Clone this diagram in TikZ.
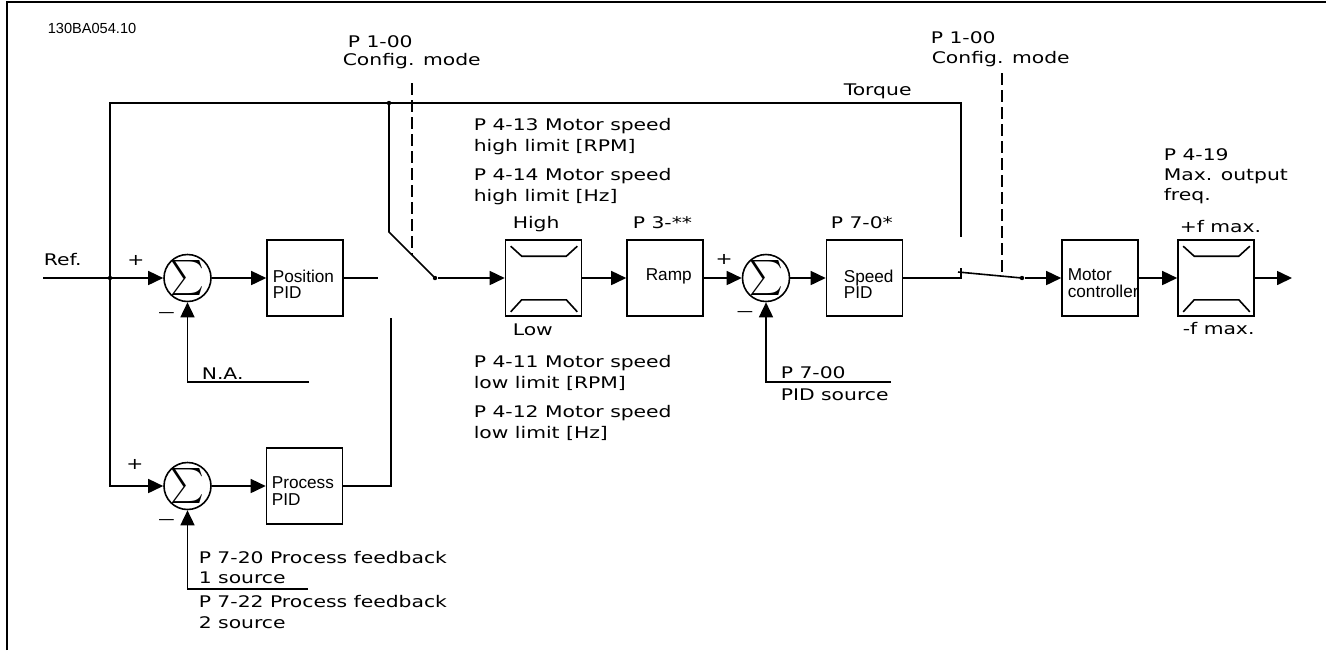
\documentclass[tikz,border=0pt]{standalone}
\usepackage{fontspec}
\setmainfont{DejaVu Sans}
\newfontfamily\labfont[FakeStretch=1.27]{DejaVu Sans}
\newfontfamily\boxfont{Liberation Sans}
\usetikzlibrary{arrows.meta}
\begin{document}
\begin{tikzpicture}[x=0.5pt,y=-0.5pt, line width=0.8pt,
  lab/.style={font=\labfont\fontsize{8}{10}\selectfont, anchor=base west, inner sep=0},
  sgn/.style={font=\labfont\fontsize{8}{10}\selectfont, anchor=center, inner sep=0},
  btxt/.style={font=\boxfont\fontsize{8.6}{10}\selectfont, anchor=base west, inner sep=0},
  ttl/.style={font=\boxfont\fontsize{7.3}{8}\selectfont, anchor=base west, inner sep=0},
  blk/.style={draw, minimum width=38pt, minimum height=38pt, inner sep=0},
  sumn/.style={draw, circle, minimum size=23.5pt, inner sep=0},
  sigma/.style={inner sep=0, anchor=center},
  arr/.style={-{Triangle[length=7.5pt,width=7pt]}},
  dotn/.style={circle, fill, inner sep=0, minimum size=2.2pt},
  cfg/.style={dash pattern=on 6pt off 2.5pt},
  frame/.style={line width=1pt}
]
\useasboundingbox (0,0) rectangle (1326,650);
% frame
\coordinate (fbl) at (6.5,650);
\coordinate (ftl) at (6.5,2.3);
\coordinate (ftr) at (1326,2.3);
\draw[frame] (fbl) -- (ftl) -- (ftr);

\node[ttl] (title) at (47,33) {130BA054.10};

% blocks
\node[sumn] (sum1) at (187.5,278) {};
\node[sumn] (sum2) at (187.5,486) {};
\node[sumn] (sum3) at (766,278) {};
\foreach \s in {sum1,sum2,sum3}
  \node[sigma] (\s sig) at (\s.center) {\scalebox{1.6}[1.75]{$\textstyle\sum$}};
\node[blk] (pos) at (305,278) {};
\node[blk] (proc) at (304.5,486) {};
\node[blk] (lim1) at (543.5,278) {};
\node[blk] (ramp) at (665,278) {};
\node[blk] (spd) at (864.5,278) {};
\node[blk] (mot) at (1100,278) {};
\node[blk] (lim2) at (1216,278) {};

% limiter symbols
\foreach \b in {lim1,lim2}{
  \draw ([shift={(6,7)}]\b.north west) -- ([shift={(17,17)}]\b.north west)
        -- ([shift={(-16,17)}]\b.north east) -- ([shift={(-5,7)}]\b.north east);
  \draw ([shift={(6,-5)}]\b.south west) -- ([shift={(17,-17)}]\b.south west)
        -- ([shift={(-16,-17)}]\b.south east) -- ([shift={(-5,-5)}]\b.south east);
}

% box texts
\node[btxt] (posa) at (272,282) {Position};
\node[btxt] (posb) at (272,298) {PID};
\node[btxt] (proca) at (271,488) {Process};
\node[btxt] (procb) at (271,505) {PID};
\node[btxt] (rampt) at (645,280) {Ramp};
\node[btxt] (spda) at (843,282) {Speed};
\node[btxt] (spdb) at (843,298) {PID};
\node[btxt] (mota) at (1067,280) {Motor};
\node[btxt] (motb) at (1067,297) {controller};

% reference input and branches
\node[lab] (ref) at (43,265) {Ref.};
\coordinate (refin) at (43,278);
\node[dotn] (j1) at (110,278) {};
\draw[arr] (refin) -- (sum1.west);
\draw[arr] (j1.center) |- (sum2.west);
\coordinate (tr) at (961,103);
\coordinate (tqend) at (961,237);
\draw (j1.center) |- (tr) -- (tqend);
\node[lab] (tq) at (843,95) {Torque};

% first switch
\node[dotn] (s1top) at (389,103) {};
\coordinate (s1knee) at (389,232);
\node[dotn] (s1) at (435,278) {};
\draw (s1top.center) -- (s1knee) -- (s1.center);
\coordinate (dash1a) at (412,83);
\coordinate (dash1b) at (412,255);
\draw[cfg] (dash1a) -- (dash1b);
\node[lab] (t1a) at (347,47) {P 1-00};
\node[lab] (t1b) at (342,65) {Config. mode};

\coordinate (posout) at (378,278);
\draw (pos.east) -- (posout);
\coordinate (procend) at (391,318);
\draw (proc.east) -| (procend);

% feedbacks
\coordinate (naend) at (309,382);
\draw[arr] (naend) -| (sum1.south);
\node[lab] (na) at (201,379) {N.A.};
\coordinate (pfbend) at (308,589);
\draw[arr] (pfbend) -| (sum2.south);
\node[lab] (f1) at (198,563) {P 7-20 Process feedback};
\node[lab] (f2) at (198,583) {1 source};
\node[lab] (f3) at (198,607) {P 7-22 Process feedback};
\node[lab] (f4) at (198,628) {2 source};
\coordinate (pidsend) at (891,382);
\draw[arr] (pidsend) -| (sum3.south);
\node[lab] (p700) at (780,378) {P 7-00};
\node[lab] (pids) at (780,400) {PID source};

% main chain
\draw[arr] (sum1) -- (pos);
\draw[arr] (sum2) -- (proc);
\draw[arr] (s1) -- (lim1);
\draw[arr] (lim1) -- (ramp);
\draw[arr] (ramp) -- (sum3);
\draw[arr] (sum3) -- (spd);

% second switch
\coordinate (c2) at (961,278);
\coordinate (c2t) at (961,268);
\draw (spd.east) -- (c2) -- (c2t);
\coordinate (bl) at (958,272);
\node[dotn] (s2) at (1022,278) {};
\draw (bl) -- (s2.center);
\coordinate (dash2a) at (1002,73);
\coordinate (dash2b) at (1002,276);
\draw[cfg] (dash2a) -- (dash2b);
\node[lab] (t2a) at (930,43) {P 1-00};
\node[lab] (t2b) at (931,63) {Config. mode};

\draw[arr] (s2) -- (mot);
\draw[arr] (mot) -- (lim2);
\coordinate (outend) at (1292,278);
\draw[arr] (lim2) -- (outend);

% signs
\node[sgn] (pl1) at (136,260) {+};
\node[sgn] (mi1) at (166.5,315) {\scalebox{1.8}[1]{–}};
\node[sgn] (pl2) at (135,464) {+};
\node[sgn] (mi2) at (166.5,522) {\scalebox{1.8}[1]{–}};
\node[sgn] (pl3) at (724,259) {+};
\node[sgn] (mi3) at (745,314) {\scalebox{1.8}[1]{–}};

% limit labels
\node[lab] (h1) at (473,130) {P 4-13 Motor speed};
\node[lab] (h2) at (473,151) {high limit [RPM]};
\node[lab] (h3) at (473,180) {P 4-14 Motor speed};
\node[lab] (h4) at (473,201) {high limit [Hz]};
\node[lab] (hi) at (512,228) {High};
\node[lab] (p3) at (632,228) {P 3-**};
\node[lab] (p70) at (830,228) {P 7-0*};
\node[lab] (lo) at (512,335) {Low};
\node[lab] (l1) at (473,367) {P 4-11 Motor speed};
\node[lab] (l2) at (473,388) {low limit [RPM]};
\node[lab] (l3) at (473,417) {P 4-12 Motor speed};
\node[lab] (l4) at (473,438) {low limit [Hz]};

\node[lab] (m1) at (1163,160) {P 4-19};
\node[lab] (m2) at (1163,180) {Max. output};
\node[lab] (m3) at (1163,200) {freq.};
\node[lab] (fp) at (1179,232) {+f max.};
\node[lab] (fm) at (1182,334) {-f max.};
\end{tikzpicture}
\end{document}
